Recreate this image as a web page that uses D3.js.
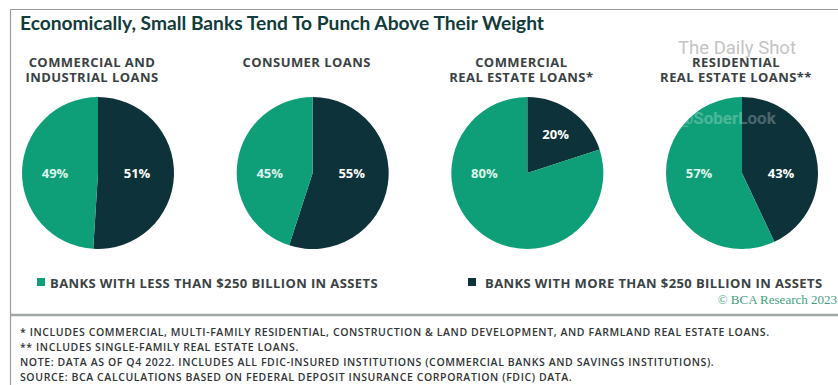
<!DOCTYPE html>
<html>
<head>
<meta charset="utf-8">
<script src="https://cdn.jsdelivr.net/npm/d3@7"></script>
<style>
  html, body { margin: 0; padding: 0; background: #fff; }
  svg { display: block; }
</style>
</head>
<body>
<svg id="chart" width="838" height="385"></svg>
<script>
// Loan categories (panel headings, one array entry per line)
const categories = [
  ["COMMERCIAL AND", "INDUSTRIAL LOANS"],
  ["CONSUMER LOANS"],
  ["COMMERCIAL", "REAL ESTATE LOANS*"],
  ["RESIDENTIAL", "REAL ESTATE LOANS**"]
];
// Share of each loan type held, in percent
const smallBankShare = [49, 45, 80, 57];
const largeBankShare = [51, 55, 20, 43];
const seriesNames = [
  "BANKS WITH LESS THAN $250 BILLION IN ASSETS",
  "BANKS WITH MORE THAN $250 BILLION IN ASSETS"
];
const titleText = "Economically, Small Banks Tend To Punch Above Their Weight";
const footnotes = [
  "* INCLUDES COMMERCIAL, MULTI-FAMILY RESIDENTIAL, CONSTRUCTION & LAND DEVELOPMENT, AND FARMLAND REAL ESTATE LOANS.",
  "** INCLUDES SINGLE-FAMILY REAL ESTATE LOANS.",
  "NOTE: DATA AS OF Q4 2022. INCLUDES ALL FDIC-INSURED INSTITUTIONS (COMMERCIAL BANKS AND SAVINGS INSTITUTIONS).",
  "SOURCE: BCA CALCULATIONS BASED ON FEDERAL DEPOSIT INSURANCE CORPORATION (FDIC) DATA."
];
const creditText = "\u00A9 BCA Research 2023";

const GREEN = "#0f9f78";
const DARK = "#0d323a";
const TEXT = "#3a4244";
const HEAD_FONT = "'Open Sans', 'DejaVu Sans', sans-serif";

const svg = d3.select("#chart");
const W = 838, H = 385;

// frame: top and left rules
svg.append("line").attr("x1", 10.5).attr("x2", W).attr("y1", 9.5).attr("y2", 9.5)
  .attr("stroke", "#9a9a9a").attr("stroke-width", 1.2);
svg.append("line").attr("x1", 10.5).attr("x2", 10.5).attr("y1", 9.5).attr("y2", H)
  .attr("stroke", "#9a9a9a").attr("stroke-width", 1.2);

// title
svg.append("text")
  .attr("x", 20).attr("y", 30)
  .attr("font-family", "Lato, 'Open Sans', sans-serif")
  .attr("font-weight", 700)
  .attr("font-size", 19)
  .attr("fill", "#113c3b")
  .attr("textLength", 524)
  .attr("lengthAdjust", "spacingAndGlyphs")
  .text(titleText);

// watermark
svg.append("text")
  .attr("x", 678).attr("y", 54)
  .attr("font-family", "Roboto, sans-serif")
  .attr("font-size", 18.5)
  .attr("fill", "#c4c4c4")
  .text("The Daily Shot");

// panel layout
const keys = categories.map(c => c.join(" "));
const x = d3.scalePoint().domain(keys).range([98, 742]);
const cy = 173;
const R = 76;

const pie = d3.pie().sort(null).value(d => d.value);
const arc = d3.arc().innerRadius(0).outerRadius(R);
const labelArc = d3.arc().innerRadius(48).outerRadius(48);

const panels = svg.selectAll("g.panel")
  .data(categories.map((c, i) => ({
    key: keys[i],
    lines: c,
    slices: [
      { series: 1, value: largeBankShare[i] },
      { series: 0, value: smallBankShare[i] }
    ]
  })))
  .join("g")
  .attr("class", "panel")
  .attr("transform", d => `translate(${x(d.key)},0)`);

// headings
panels.each(function (d) {
  const g = d3.select(this);
  const t = g.append("text")
    .attr("text-anchor", "middle")
    .attr("font-family", HEAD_FONT)
    .attr("font-weight", 700)
    .attr("font-size", 13)
    .attr("letter-spacing", 0.45)
    .attr("fill", TEXT);
  d.lines.forEach((line, j) => {
    t.append("tspan").attr("x", -6).attr("y", 67 + j * 15).text(line);
  });
});

// pies
const pieG = panels.append("g").attr("transform", `translate(0,${cy})`);
pieG.selectAll("path")
  .data(d => pie(d.slices))
  .join("path")
  .attr("d", arc)
  .attr("fill", d => d.data.series === 0 ? GREEN : DARK);

// value labels: sit on the horizontal axis when the slice covers it,
// otherwise at the slice centroid
function labelPos(d) {
  const right = Math.PI / 2, left = 3 * Math.PI / 2;
  if (d.startAngle <= left && d.endAngle >= left) return [-43, 0];
  if (d.startAngle <= right && d.endAngle >= right) return [39, 0];
  return labelArc.centroid(d);
}
pieG.selectAll("text")
  .data(d => pie(d.slices))
  .join("text")
  .attr("transform", d => { const p = labelPos(d); return `translate(${p[0]},${p[1]})`; })
  .attr("text-anchor", "middle")
  .attr("dy", "0.35em")
  .attr("font-family", HEAD_FONT)
  .attr("font-weight", 700)
  .attr("font-size", 13)
  .attr("fill", d => d.data.series === 0 ? "#dff3ec" : "#ffffff")
  .text(d => d.data.value + "%");

// second watermark line
svg.append("text")
  .attr("x", 678).attr("y", 124)
  .attr("font-family", "Roboto, sans-serif")
  .attr("font-weight", 700)
  .attr("font-size", 17)
  .attr("fill", "#ffffff")
  .attr("opacity", 0.25)
  .text("@SoberLook");

// legend
const legendX = [37, 468];
const legend = svg.selectAll("g.legend")
  .data(seriesNames)
  .join("g")
  .attr("class", "legend")
  .attr("transform", (d, i) => `translate(${legendX[i]},278)`);
legend.append("rect")
  .attr("width", 8).attr("height", 8)
  .attr("fill", (d, i) => i === 0 ? GREEN : DARK);
legend.append("text")
  .attr("x", (d, i) => i === 0 ? 13 : 17)
  .attr("y", 9.5)
  .attr("font-family", HEAD_FONT)
  .attr("font-weight", 700)
  .attr("font-size", 13)
  .attr("letter-spacing", 0.4)
  .attr("fill", TEXT)
  .text(d => d);

// credit
svg.append("text")
  .attr("x", 837).attr("y", 304)
  .attr("text-anchor", "end")
  .attr("font-family", "'Liberation Serif', 'DejaVu Serif', serif")
  .attr("font-size", 13)
  .attr("fill", "#3f9f7f")
  .text(creditText);

// separator
svg.append("line").attr("x1", 11).attr("x2", W).attr("y1", 315).attr("y2", 315)
  .attr("stroke", "#9ea7a6").attr("stroke-width", 2.5);

// footnotes
svg.append("g").selectAll("text")
  .data(footnotes)
  .join("text")
  .attr("x", 20)
  .attr("y", (d, i) => 336 + i * 15)
  .attr("font-family", HEAD_FONT)
  .attr("font-weight", 600)
  .attr("font-size", 10.5)
  .attr("letter-spacing", 0.6)
  .attr("fill", "#2f3435")
  .text(d => d);
</script>
</body>
</html>
